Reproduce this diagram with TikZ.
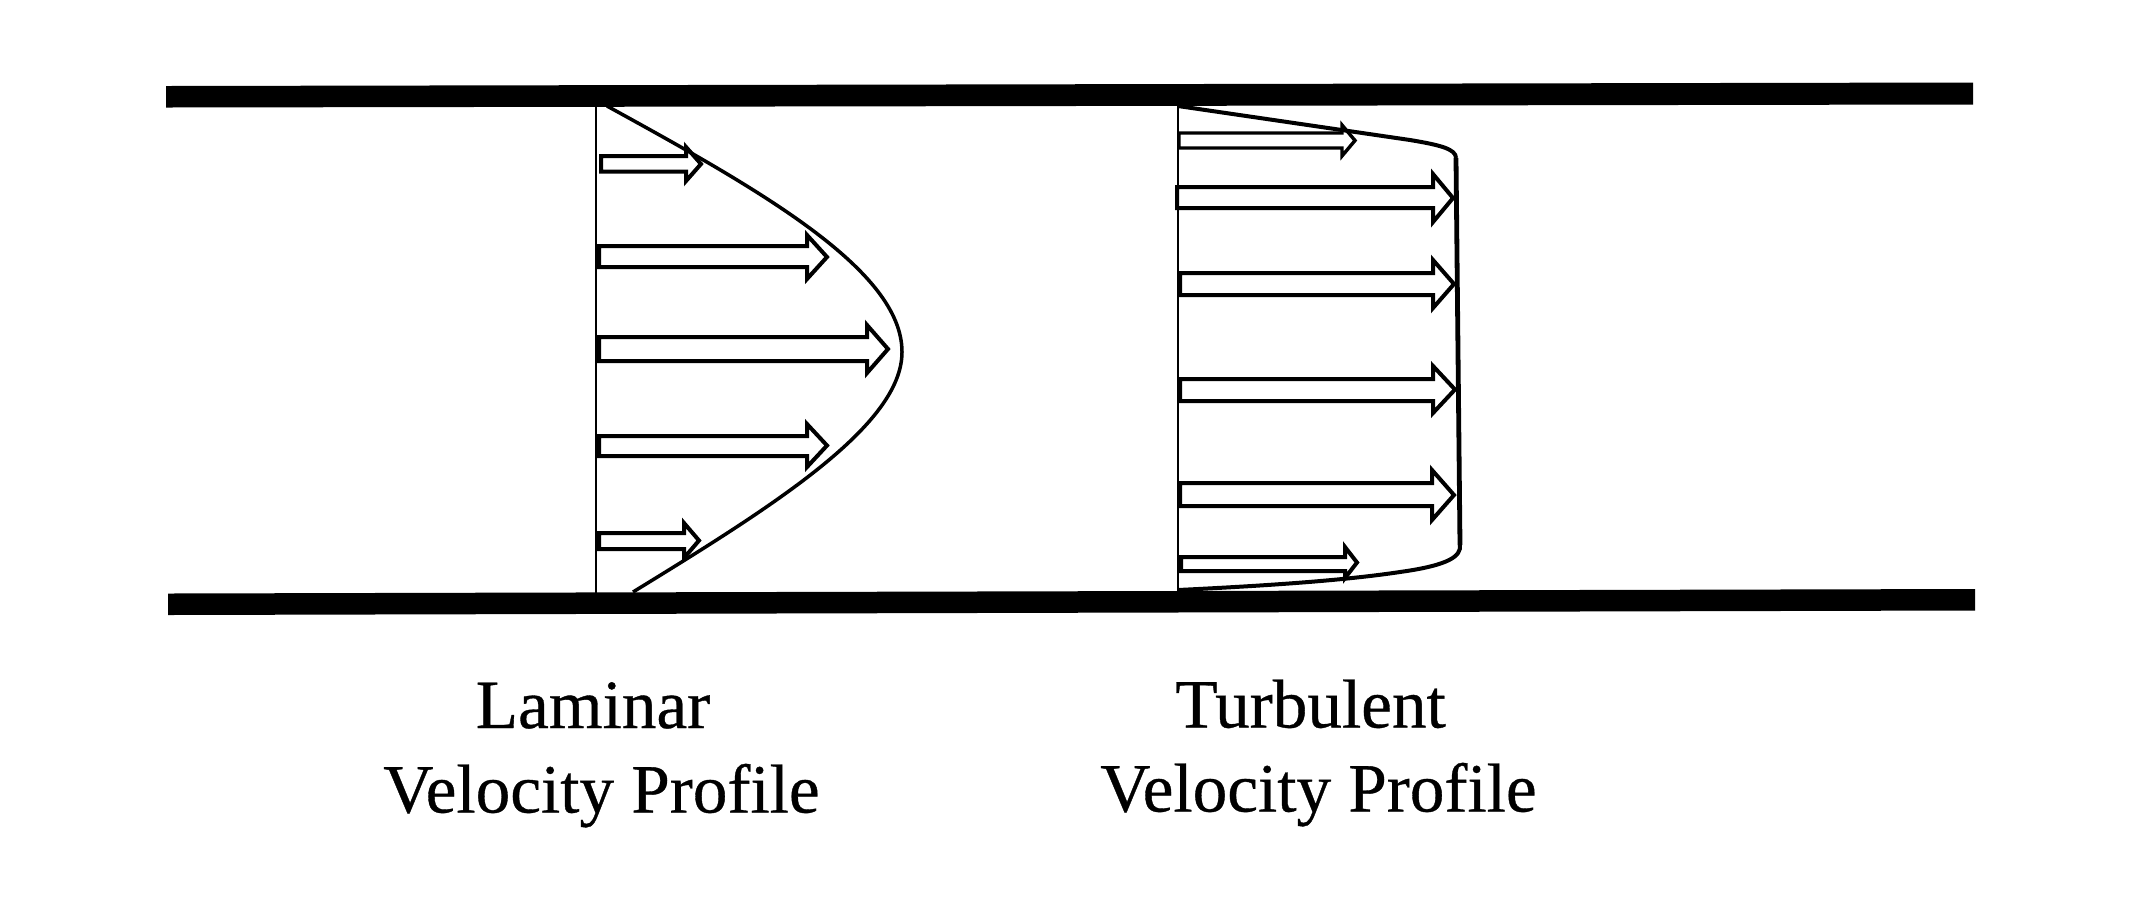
\documentclass[tikz,border=0pt]{standalone}
\usepackage{fontspec}
\setmainfont{Liberation Serif}
\newfontfamily\capfont[RawFeature={embolden=0.5}]{Liberation Serif}
\tikzset{
  wall/.style={fill=black,draw=none},
  blockarrow/.style={draw=black,fill=white,line width=2pt,miter limit=10},
  blockthin/.style={blockarrow,line width=1.7pt},
  refline/.style={draw=black,line width=0.85pt},
  profile/.style={draw=black,line width=1.75pt},
  plug/.style={draw=black,line width=2.4pt},
  caption/.style={anchor=base,font=\capfont\fontsize{34.6}{34.6}\selectfont,inner sep=0pt}
}
% #1 style, #2 tail x, #3 shaft top, #4 shaft bottom, #5 neck x, #6 barb top, #7 barb bottom, #8 tip x
\newcommand{\flowarrow}[8]{%
  \path[#1] (#2,#3) -- (#5,#3) -- (#5,#6) -- (#8,{(#6+#7)/2}) -- (#5,#7) -- (#5,#4) -- (#2,#4) -- cycle;}
\begin{document}
\begin{tikzpicture}[x=0.5pt,y=-0.5pt]
\useasboundingbox (0,0) rectangle (2154,902);
\fill[white] (0,0) rectangle (2154,902);
% walls
\path[wall] (166,86) -- (1973,82.5) -- (1973,104.5) -- (166,107.5) -- cycle;
\path[wall] (168,593.5) -- (1975,589) -- (1975,610.5) -- (168,615) -- cycle;
% reference lines
\coordinate (lt) at (596,106); \coordinate (lb) at (596,594);
\coordinate (tt) at (1178,105); \coordinate (tb) at (1178,591);
\draw[refline] (lt) -- (lb);
\draw[refline] (tt) -- (tb);
% laminar arrows
\flowarrow{blockarrow}{601}{156}{171.5}{686}{147}{181}{701}
\flowarrow{blockarrow}{599}{246}{267}{807}{235}{279}{827}
\flowarrow{blockarrow}{599}{337}{361}{867}{325}{373}{888}
\flowarrow{blockarrow}{599}{436}{456}{807}{424}{467}{827}
\flowarrow{blockarrow}{599}{533}{549}{684}{523}{558}{699}
% turbulent arrows
\flowarrow{blockthin}{1179}{133}{148}{1342}{125}{156}{1355}
\flowarrow{blockarrow}{1177}{187}{208}{1433}{174}{222}{1453}
\flowarrow{blockarrow}{1180}{273}{295}{1433}{260}{308}{1454}
\flowarrow{blockarrow}{1180}{379}{401}{1433}{366}{413}{1455}
\flowarrow{blockarrow}{1180}{483}{506}{1432}{470}{520}{1454}
\flowarrow{blockarrow}{1181}{557}{571}{1345}{547}{578}{1357}
% laminar profile
\coordinate (ls) at (607,106); \coordinate (lm) at (902,352); \coordinate (le) at (633,592);
\draw[profile] (ls) .. controls (760,190) and (902,270) .. (lm)
   .. controls (902,425) and (775,505) .. (le);
% turbulent profile
\coordinate (ts) at (1178,106); \coordinate (tu) at (1456,158); \coordinate (tl) at (1460,545); \coordinate (te) at (1178,590);
\draw[profile,line width=2pt] (ts) -- (1410,140) .. controls (1440,145) and (1456,149) .. (tu);
\draw[plug] (tu) -- (tl);
\draw[profile,line width=2pt] (tl) .. controls (1461,556) and (1450,565) .. (1400,572) .. controls (1340,581) and (1260,586) .. (te);
% captions
\node[caption] (c1) at (593,728) {Laminar};
\node[caption] (c2) at (601.5,812.5) {Velocity Profile};
\node[caption] (c3) at (1310.5,727.5) {Turbulent};
\node[caption] (c4) at (1318.5,811.5) {Velocity Profile};
\end{tikzpicture}
\end{document}
